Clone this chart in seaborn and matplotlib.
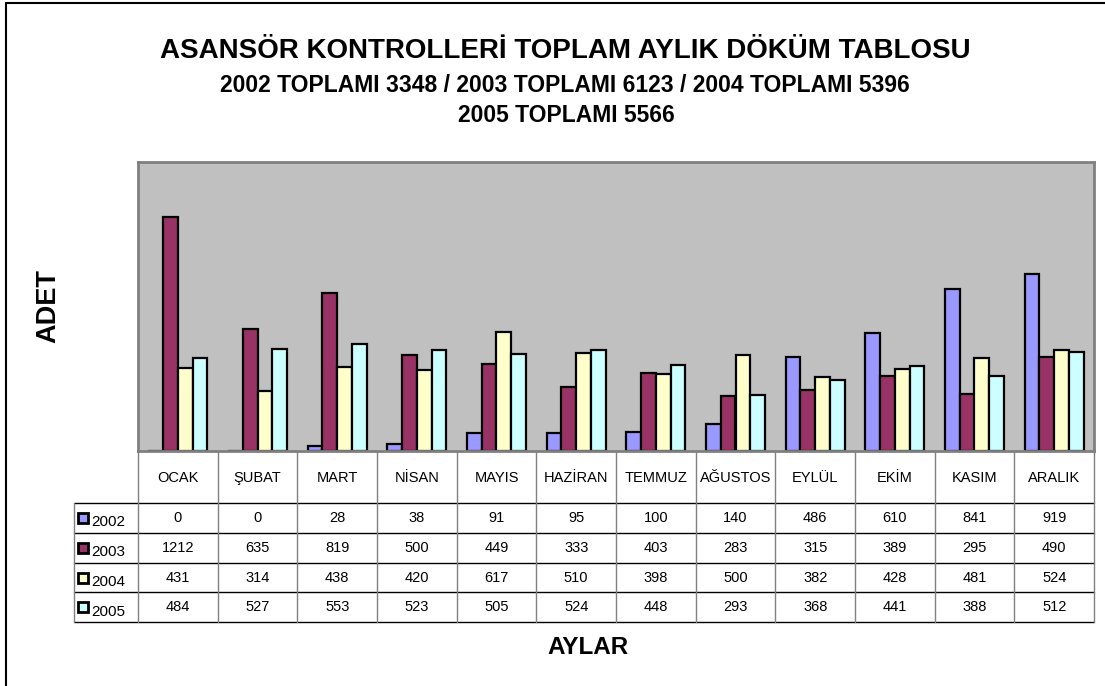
import numpy as np
import pandas as pd
import seaborn as sns
import matplotlib.pyplot as plt
from matplotlib.patches import Rectangle
from matplotlib.lines import Line2D

# Veriler (tablodan okundu)
aylar = ["OCAK", "ŞUBAT", "MART", "NİSAN", "MAYIS", "HAZİRAN", "TEMMUZ",
         "AĞUSTOS", "EYLÜL", "EKİM", "KASIM", "ARALIK"]
yillar = ["2002", "2003", "2004", "2005"]
adet_2002 = [0, 0, 28, 38, 91, 95, 100, 140, 486, 610, 841, 919]
adet_2003 = [1212, 635, 819, 500, 449, 333, 403, 283, 315, 389, 295, 490]
adet_2004 = [431, 314, 438, 420, 617, 510, 398, 500, 382, 428, 481, 524]
adet_2005 = [484, 527, 553, 523, 505, 524, 448, 293, 368, 441, 388, 512]
renkler = ["#9999FF", "#993366", "#FFFFCC", "#CCFFFF"]

seriler = [adet_2002, adet_2003, adet_2004, adet_2005]
df = pd.DataFrame({
    "ay": aylar * len(yillar),
    "yil": np.repeat(yillar, len(aylar)),
    "adet": np.concatenate(seriler),
})

sns.set_style("white")
plt.rcParams['font.family'] = ['Liberation Sans', 'DejaVu Sans']
plt.rcParams['text.color'] = 'black'

W, H = 1105, 686
fig = plt.figure(figsize=(W / 100, H / 100), dpi=100)


def px_axes(x0, y0, x1, y1):
    # piksel koordinatlarindan axes olustur
    return fig.add_axes([x0 / W, 1 - y1 / H, (x1 - x0) / W, (y1 - y0) / H])


# Grafik alani
ax = px_axes(138, 162, 1094, 451)
sns.barplot(data=df, x="ay", y="adet", hue="yil", palette=renkler,
            saturation=1, width=0.74, edgecolor="black", linewidth=1.6,
            legend=False, ax=ax)
ax.set_xlim(-0.5, len(aylar) - 0.5)
ax.set_ylim(0, 1500)
ax.set_facecolor("#C0C0C0")
ax.set_xticks([])
ax.set_yticks([])
ax.set_xlabel("")
ax.set_ylabel("")
for s in ax.spines.values():
    s.set_color("#808080")
    s.set_linewidth(2)
    s.set_visible(True)

# Veri tablosu
tax = px_axes(74, 451, 1094, 622)
birim = 956 / len(aylar)
sol = -0.5 - 64 / birim
tax.set_xlim(sol, len(aylar) - 0.5)
tax.set_ylim(622, 451)
tax.axis("off")

satir_cizgi = [503, 533, 563, 592, 622]
for y in satir_cizgi:
    tax.plot([sol, len(aylar) - 0.5], [y, y], color="black", lw=1, clip_on=False)
for i in range(len(aylar) + 1):
    tax.plot([i - 0.5, i - 0.5], [451, 622], color="#808080", lw=1, clip_on=False)
tax.plot([sol, sol], [503, 622], color="#808080", lw=1, clip_on=False)

for i, ay in enumerate(aylar):
    tax.text(i, 478, ay, ha="center", va="center", fontsize=10.5)

for r, (yil, seri, renk) in enumerate(zip(yillar, seriler, renkler)):
    y0, y1 = satir_cizgi[r], satir_cizgi[r + 1]
    yc = (y0 + y1) / 2
    tax.add_patch(Rectangle((sol + 4 / birim, yc - 5), 10 / birim, 10,
                            facecolor=renk, edgecolor="black", lw=2))
    tax.text(sol + 17.5 / birim, yc + 4.5, yil, ha="left", va="center", fontsize=11)
    for i, v in enumerate(seri):
        tax.text(i, yc, str(v), ha="center", va="center", fontsize=10.5)

# Basliklar
fig.text(565 / W, 1 - 51 / H, "ASANSÖR KONTROLLERİ TOPLAM AYLIK DÖKÜM TABLOSU",
         ha="center", va="center", fontsize=20, fontweight="bold")
fig.text(565 / W, 1 - 86 / H,
         "2002 TOPLAMI 3348 / 2003 TOPLAMI 6123 / 2004 TOPLAMI 5396",
         ha="center", va="center", fontsize=16.5, fontweight="bold")
fig.text(566 / W, 1 - 115 / H, "2005 TOPLAMI 5566",
         ha="center", va="center", fontsize=16.5, fontweight="bold")
fig.text(48 / W, 1 - 306 / H, "ADET", rotation=90, ha="center", va="center",
         fontsize=19.5, fontweight="bold")
fig.text(588 / W, 1 - 648 / H, "AYLAR", ha="center", va="center",
         fontsize=17.5, fontweight="bold")

# Cerceve
fig.add_artist(Line2D([6 / W, 1], [1 - 3 / H, 1 - 3 / H], color="black", lw=1.5,
                      transform=fig.transFigure))
fig.add_artist(Line2D([6 / W, 6 / W], [1 - 3 / H, 0], color="black", lw=1.5,
                      transform=fig.transFigure))

fig.savefig("out.png", dpi=100)
